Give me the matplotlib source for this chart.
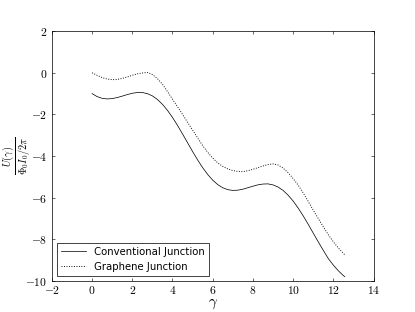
import matplotlib
matplotlib.use("Agg")
from matplotlib import pyplot as plt
from matplotlib.ticker import FuncFormatter

# phase values (gamma) and the two potentials
gamma = [0.00, 0.25, 0.50, 0.75, 1.00, 1.25, 1.50, 1.75, 2.00, 2.25, 2.50, 2.75,
         3.00, 3.25, 3.50, 3.75, 4.00, 4.25, 4.50, 4.75, 5.00, 5.25, 5.50, 5.75,
         6.00, 6.25, 6.50, 6.75, 7.00, 7.25, 7.50, 7.75, 8.00, 8.25, 8.50, 8.75,
         9.00, 9.25, 9.50, 9.75, 10.00, 10.25, 10.50, 10.75, 11.00, 11.25, 11.50,
         11.75, 12.00, 12.25, 12.50, 12.57]

conventional = [-1.000, -1.144, -1.228, -1.257, -1.240, -1.190, -1.121, -1.047,
                -0.984, -0.947, -0.949, -1.001, -1.110, -1.281, -1.514, -1.805,
                -2.146, -2.529, -2.939, -3.362, -3.784, -4.187, -4.559, -4.886,
                -5.160, -5.374, -5.527, -5.618, -5.654, -5.643, -5.597, -5.525,
                -5.454, -5.386, -5.348, -5.340, -5.389, -5.490, -5.653, -5.882,
                -6.161, -6.500, -6.874, -7.279, -7.704, -8.125, -8.533, -8.929,
                -9.244, -9.519, -9.748, -9.800]

graphene = [0.00, -0.12, -0.23, -0.30, -0.33, -0.32, -0.27, -0.20, -0.12, -0.05,
            -0.01, 0.02, -0.08, -0.28, -0.55, -0.90, -1.27, -1.63, -2.00, -2.38,
            -2.75, -3.13, -3.50, -3.82, -4.10, -4.33, -4.50, -4.62, -4.70, -4.74,
            -4.75, -4.71, -4.64, -4.56, -4.48, -4.41, -4.38, -4.43, -4.58, -4.80,
            -5.08, -5.40, -5.77, -6.18, -6.60, -7.00, -7.40, -7.78, -8.12, -8.42,
            -8.68, -8.75]

xticks = [-2, 0, 2, 4, 6, 8, 10, 12, 14]
yticks = [-10, -8, -6, -4, -2, 0, 2]

plt.rcParams['mathtext.fontset'] = 'cm'
plt.rcParams['font.family'] = 'DejaVu Sans'

fig = plt.figure(figsize=(415 / 52, 6), dpi=52, facecolor='white')
ax = fig.add_axes([0.125, 0.1, 0.775, 0.8])

ax.plot(gamma, conventional, 'k-', lw=1, label='Conventional Junction')
ax.plot(gamma, graphene, 'k:', lw=1.3, label='Graphene Junction')

ax.set_xlim(-2, 14)
ax.set_ylim(-10, 2)
ax.set_xticks(xticks)
ax.set_yticks(yticks)
fmt = FuncFormatter(lambda v, p: r'$%d$' % v)
ax.xaxis.set_major_formatter(fmt)
ax.yaxis.set_major_formatter(fmt)
ax.tick_params(direction='in', top=True, right=True, length=4, width=0.8,
               labelsize=16, pad=6)
ax.tick_params(axis='x', pad=4.5)
for s in ax.spines.values():
    s.set_linewidth(1)

ax.set_xlabel(r'$\gamma$', fontsize=21)
ax.xaxis.set_label_coords(0.5, -0.062)
ax.set_ylabel(r'$\frac{U(\gamma)}{\Phi_0 I_0/2\pi}$', fontsize=20)
ax.yaxis.set_label_coords(-0.06, 0.5)

leg = ax.legend(loc='lower left', fontsize=14, fancybox=False, framealpha=1,
                handlelength=2.5, borderaxespad=0.5)
leg.get_frame().set_edgecolor('black')
leg.get_frame().set_linewidth(1)

fig.savefig('out.png', dpi=52, facecolor='white')
